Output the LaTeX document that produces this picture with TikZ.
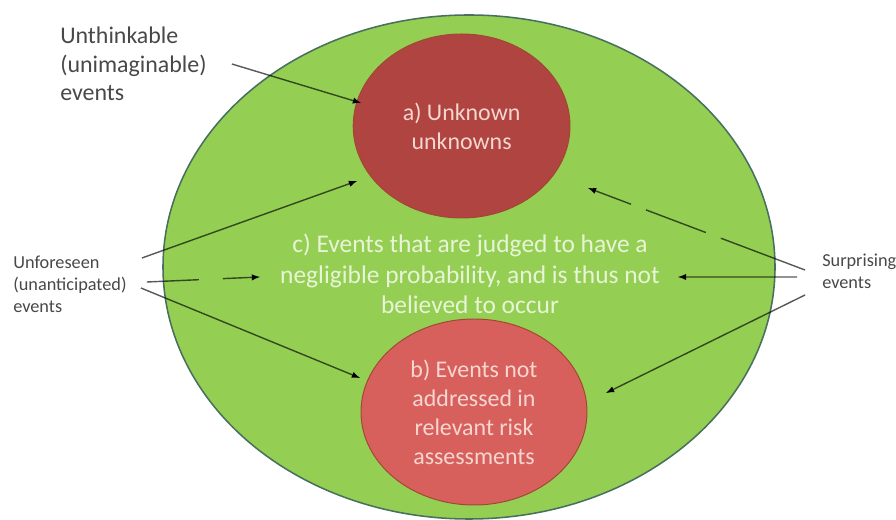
\documentclass[tikz,border=0pt]{standalone}
\usepackage{fontspec}
\setmainfont{Carlito}
\usetikzlibrary{shapes.geometric,positioning}
\definecolor{regiongreen}{RGB}{148,207,84}
\definecolor{regionedge}{RGB}{72,112,92}
\definecolor{unkred}{RGB}{176,68,64}
\definecolor{notred}{RGB}{216,96,92}
\definecolor{rededge}{RGB}{160,72,52}
\definecolor{pinktext}{RGB}{246,214,208}
\definecolor{paletext}{RGB}{232,244,214}
\definecolor{labelgray}{RGB}{72,72,72}
\tikzset{
  region/.style={ellipse, draw, line width=0.7pt, inner sep=0pt},
  bigtext/.style={align=center, font=\fontsize{17}{20.6}\selectfont},
  outlabel/.style={align=left, text=labelgray, inner sep=0pt},
  pointer/.style={-latex, line width=1pt, draw=black, draw opacity=0.65}
}
\begin{document}
\begin{tikzpicture}
    \useasboundingbox (0,0) rectangle (22.4,13);
    %regions
    \node[region, draw=regionedge, line width=1.1pt, fill=regiongreen, minimum width=15.3cm, minimum height=12.6cm] (judged) at (11.725,6.325) {};
    \node[region, draw=rededge, fill=unkred, minimum width=5.42cm, minimum height=4.6cm, text=pinktext, bigtext] (unknown) at (11.54,9.85) {a) Unknown\\unknowns};
    \node[region, draw=rededge, fill=notred, minimum width=5.65cm, minimum height=4.65cm, text=pinktext, bigtext] (notaddressed) at (11.85,2.7) {b) Events not\\addressed in\\relevant risk\\assessments};
    \node[bigtext, text=paletext, font=\fontsize{18.1}{21.5}\selectfont] (negligible) at (11.75,6.15) {c) Events that are judged to have a\\negligible probability, and is thus not\\believed to occur};
    %labels outside
    \node[outlabel, anchor=west, font=\fontsize{17}{20.4}\selectfont] (unthinkable) at (1.5,11.4) {Unthinkable\\(unimaginable)\\events};
    \node[outlabel, anchor=west, font=\fontsize{13}{15.6}\selectfont] (unforeseen) at (0.325,5.9) {Unforeseen\\(unanticipated)\\events};
    \node[outlabel, anchor=west, font=\fontsize{13}{15.6}\selectfont] (surprising) at (20.55,6.225) {Surprising\\events};
    %arrow ends
    \coordinate (tipa) at (9.025,10.425);
    \coordinate (tipb) at (8.925,8.475);
    \coordinate (tipc) at (6.5,6.075);
    \coordinate (tipd) at (9.0,3.55);
    \coordinate (tipe) at (14.7,8.3);
    \coordinate (tipf) at (16.95,6.075);
    \coordinate (tipg) at (15.15,3.175);
    %arrows
    \draw[pointer] ([xshift=0.625cm]unthinkable.east) -- (tipa);
    \draw[pointer] ([shift={(0.375,0.65)}]unforeseen.east) -- (tipb);
    \draw[pointer, dash pattern=on 1.3cm off 0.6cm] ([shift={(0.5,0.05)}]unforeseen.east) -- (tipc);
    \draw[pointer] ([shift={(0.35,-0.1)}]unforeseen.east) -- (tipd);
    \draw[pointer, dash pattern=on 2.25cm off 0.4cm on 1.6cm off 0.4cm] ([shift={(-0.425,0.025)}]surprising.west) -- (tipe);
    \draw[pointer] ([shift={(-0.625,-0.15)}]surprising.west) -- (tipf);
    \draw[pointer] ([shift={(-0.425,-0.6)}]surprising.west) -- (tipg);
\end{tikzpicture}
\end{document}
